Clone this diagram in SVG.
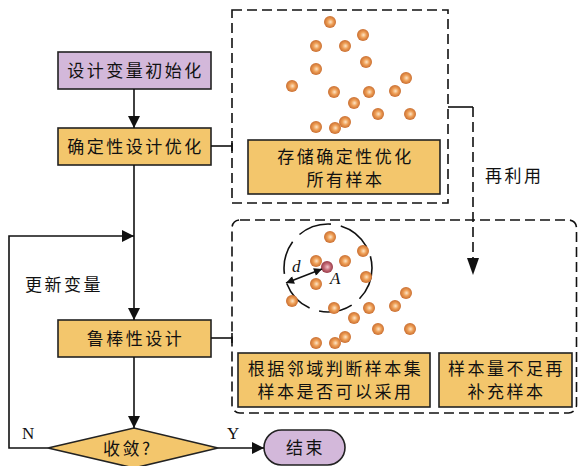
<svg xmlns="http://www.w3.org/2000/svg" width="578" height="466" viewBox="0 0 578 466">
<defs>
<radialGradient id="ball" cx="0.5" cy="0.5" r="0.55" fx="0.55" fy="0.5">
<stop offset="0" stop-color="#FDE6C8"/>
<stop offset="0.45" stop-color="#EE9E55"/>
<stop offset="1" stop-color="#C2652A"/>
</radialGradient>
<radialGradient id="redball" cx="0.5" cy="0.5" r="0.55" fx="0.55" fy="0.5">
<stop offset="0" stop-color="#F4C8CC"/>
<stop offset="0.45" stop-color="#C8707C"/>
<stop offset="1" stop-color="#8E2E3C"/>
</radialGradient>
<marker id="arrBig" viewBox="0 0 10 10" refX="10" refY="5" markerWidth="16" markerHeight="12" markerUnits="userSpaceOnUse" orient="auto">
<path d="M0,0 L10,5 L0,10 z" fill="#111"/>
</marker>
<marker id="arrS" viewBox="0 0 10 10" refX="10" refY="5" markerWidth="10" markerHeight="8" markerUnits="userSpaceOnUse" orient="auto-start-reverse">
<path d="M0,0 L10,5 L0,10 z" fill="#111"/>
</marker>
</defs>
<style>
.box{stroke:#222;stroke-width:1.6}
.gold{fill:#F3C66C}
.purple{fill:#D3B8DA}
.t{font-family:"Noto Sans CJK SC","Noto Sans",sans-serif;font-size:17px;fill:#111;letter-spacing:2.5px}
.lat{font-family:"Liberation Serif",serif;font-size:17px;fill:#111}
.line{stroke:#111;stroke-width:1.6;fill:none}
.dash{stroke:#111;stroke-width:1.6;fill:none;stroke-dasharray:10,5}
.b{fill:url(#ball)}
</style>

<g id="node-init">
<rect class="box purple" x="58" y="52" width="153" height="37"/>
<text class="t" x="135.5" y="76.5" text-anchor="middle">设计变量初始化</text>
</g>
<g id="node-det">
<rect class="box gold" x="58" y="128" width="153" height="37"/>
<text class="t" x="135.5" y="152.5" text-anchor="middle">确定性设计优化</text>
</g>
<g id="node-robust">
<rect class="box gold" x="58" y="320" width="153" height="37"/>
<text class="t" x="135.5" y="344.5" text-anchor="middle">鲁棒性设计</text>
</g>
<g id="node-conv">
<path class="box gold" d="M48,448 L134,428 L218,448 L134,468 z"/>
<text class="t" x="103" y="455">收敛?</text>
</g>
<g id="node-end">
<rect class="box purple" x="264" y="430" width="81" height="35" rx="17.5"/>
<text class="t" x="305.5" y="454" text-anchor="middle">结束</text>
</g>

<g id="group-store">
<rect class="dash" x="232" y="10" width="216" height="193"/>
<g id="balls-top">
<circle class="b" cx="330" cy="22" r="6"/>
<circle class="b" cx="363" cy="35" r="6"/>
<circle class="b" cx="316" cy="46" r="6"/>
<circle class="b" cx="345" cy="46" r="6"/>
<circle class="b" cx="366" cy="62" r="6"/>
<circle class="b" cx="316" cy="69" r="6"/>
<circle class="b" cx="292" cy="86" r="6"/>
<circle class="b" cx="334" cy="92" r="6"/>
<circle class="b" cx="369" cy="92" r="6"/>
<circle class="b" cx="395" cy="91" r="6"/>
<circle class="b" cx="406" cy="78" r="6"/>
<circle class="b" cx="354" cy="103" r="6"/>
<circle class="b" cx="378" cy="114" r="6"/>
<circle class="b" cx="410" cy="114" r="6"/>
<circle class="b" cx="316" cy="127" r="6"/>
<circle class="b" cx="335" cy="128" r="6"/>
<circle class="b" cx="345" cy="122" r="6"/>
</g>
<g id="node-store">
<rect class="box gold" x="248" y="140" width="192" height="54"/>
<text class="t" x="345.5" y="163" text-anchor="middle">存储确定性优化</text>
<text class="t" x="345.5" y="186" text-anchor="middle">所有样本</text>
</g>
</g>

<g id="group-robust">
<rect class="dash" x="232" y="220" width="344.5" height="193" rx="8"/>
<circle cx="328" cy="268" r="44" fill="none" stroke="#111" stroke-width="1.6" stroke-dasharray="34,10"/>
<g id="balls-bottom">
<circle class="b" cx="330" cy="237" r="6"/>
<circle class="b" cx="363" cy="251" r="6"/>
<circle class="b" cx="316" cy="261" r="6"/>
<circle class="b" cx="345" cy="261" r="6"/>
<circle class="b" cx="366" cy="277" r="6"/>
<circle class="b" cx="316" cy="284" r="6"/>
<circle class="b" cx="292" cy="301" r="6"/>
<circle class="b" cx="334" cy="308" r="6"/>
<circle class="b" cx="369" cy="308" r="6"/>
<circle class="b" cx="395" cy="306" r="6"/>
<circle class="b" cx="406" cy="293" r="6"/>
<circle class="b" cx="354" cy="318" r="6"/>
<circle class="b" cx="378" cy="329" r="6"/>
<circle class="b" cx="410" cy="329" r="6"/>
<circle class="b" cx="316" cy="343" r="6"/>
<circle class="b" cx="335" cy="343" r="6"/>
<circle class="b" cx="345" cy="337" r="6"/>
<circle cx="327" cy="267" r="6" fill="url(#redball)"/>
</g>
<line class="line" x1="286" y1="283" x2="322" y2="269" marker-start="url(#arrS)" marker-end="url(#arrS)" stroke-width="1.8"/>
<text class="lat" x="292" y="272" font-style="italic">d</text>
<text class="lat" x="330" y="284" font-style="italic">A</text>
<g id="node-judge">
<rect class="box gold" x="238" y="353" width="192" height="54"/>
<text class="t" x="335.5" y="375" text-anchor="middle">根据邻域判断样本集</text>
<text class="t" x="335.5" y="398" text-anchor="middle">样本是否可以采用</text>
</g>
<g id="node-supp">
<rect class="box gold" x="439" y="353" width="133" height="54"/>
<text class="t" x="506.5" y="375" text-anchor="middle">样本量不足再</text>
<text class="t" x="506.5" y="398" text-anchor="middle">补充样本</text>
</g>
</g>

<g id="connectors">
<line class="line" x1="134" y1="89" x2="134" y2="128" marker-end="url(#arrBig)"/>
<line class="line" x1="134" y1="165" x2="134" y2="320" marker-end="url(#arrBig)"/>
<line class="line" x1="134" y1="357" x2="134" y2="428" marker-end="url(#arrBig)"/>
<polyline class="line" points="48,448 9,448 9,236 134,236" marker-end="url(#arrBig)"/>
<line class="line" x1="218" y1="448" x2="264" y2="448" marker-end="url(#arrBig)"/>
<line class="line" x1="211" y1="146" x2="232" y2="146"/>
<line class="line" x1="232" y1="141" x2="232" y2="151"/>
<line class="line" x1="211" y1="338" x2="232" y2="338"/>
<line class="line" x1="232" y1="333" x2="232" y2="343"/>
<polyline class="line" points="448,107 473,107"/>
<line class="dash" x1="473" y1="107" x2="473" y2="260"/>
<path d="M467,258 L473,275 L479,258 z" fill="#111"/>
<text class="t" x="485" y="182" letter-spacing="1.5">再利用</text>
<text class="t" x="25" y="291">更新变量</text>
<text class="lat" x="22" y="439">N</text>
<text class="lat" x="227" y="439">Y</text>
</g>
</svg>
